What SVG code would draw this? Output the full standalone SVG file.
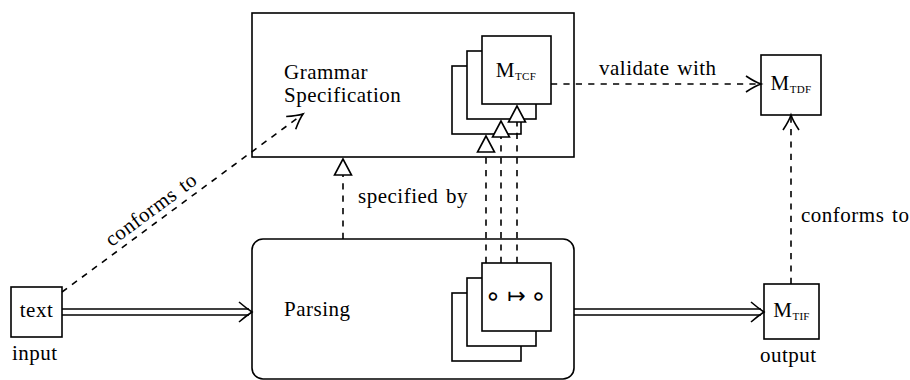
<svg xmlns="http://www.w3.org/2000/svg" width="910" height="380" viewBox="0 0 910 380">
  <style>
    .box { fill: #ffffff; stroke: #000000; stroke-width: 1.6; }
    .lbl { font-family: "Liberation Serif", "Times New Roman", serif; font-size: 21px; fill: #000000; letter-spacing: 0.5px; word-spacing: 2px; }
    .sub { font-size: 11px; letter-spacing: 0.3px; }
    .sym { font-family: "DejaVu Sans ExtraLight", "DejaVu Sans", sans-serif; font-size: 22px; fill: #000000; }
    .ring { font-size: 27px; }
    .dash { fill: none; stroke: #000000; stroke-width: 1.6; stroke-dasharray: 6.2 6.2; }
    .solid { fill: none; stroke: #000000; stroke-width: 1.6; }
    .head { fill: none; stroke: #000000; stroke-width: 1.6; stroke-linejoin: miter; }
  </style>
  <defs>
    <!-- open "to" arrowhead -->
    <marker id="open" markerUnits="userSpaceOnUse" markerWidth="24" markerHeight="24" viewBox="-20 -12 24 24" refX="0" refY="0" orient="auto" overflow="visible">
      <path d="M-15,-8 Q-6,-2 0,0 Q-6,2 -15,8" fill="none" stroke="#000" stroke-width="1.6"/>
    </marker>
    <!-- hollow triangle arrowhead -->
    <marker id="tri" markerUnits="userSpaceOnUse" markerWidth="24" markerHeight="24" viewBox="-20 -12 24 24" refX="0" refY="0" orient="auto" overflow="visible">
      <path d="M0,0 L-16,-8.5 L-16,8.5 Z" fill="#fff" stroke="#000" stroke-width="1.6" stroke-linejoin="miter"/>
    </marker>
  </defs>

  <!-- Grammar specification container -->
  <g id="grammar">
    <rect class="box" x="252" y="13" width="322" height="144"/>
    <text class="lbl" x="284" y="79">Grammar</text>
    <text class="lbl" x="284" y="102">Specification</text>
  </g>

  <!-- stack of M_TCF models -->
  <g id="mtcf">
    <rect class="box" x="452" y="66" width="69" height="68"/>
    <rect class="box" x="467" y="51" width="69" height="68"/>
    <rect class="box" x="482" y="36" width="69" height="68"/>
    <text class="lbl" x="516" y="77" text-anchor="middle">M<tspan class="sub" dy="3">TCF</tspan></text>
  </g>

  <!-- Parsing container -->
  <g id="parsing">
    <rect class="box" x="252" y="239" width="322" height="140" rx="11" ry="11"/>
    <text class="lbl" x="284" y="316">Parsing</text>
  </g>

  <!-- stack of mapping rules -->
  <g id="mapping">
    <rect class="box" x="452" y="293" width="69" height="68"/>
    <rect class="box" x="467" y="278" width="69" height="68"/>
    <rect class="box" x="482" y="263" width="69" height="68"/>
    <text class="sym" text-anchor="middle"><tspan class="ring" x="493" y="304.5">∘</tspan><tspan x="516.5" y="303">↦</tspan><tspan class="ring" x="538.5" y="304.5">∘</tspan></text>
  </g>

  <!-- input text -->
  <g id="input">
    <rect class="box" x="11" y="287" width="51" height="50"/>
    <text class="lbl" x="36.5" y="317" text-anchor="middle">text</text>
    <text class="lbl" x="12" y="360">input</text>
  </g>

  <!-- target data format -->
  <g id="mtdf">
    <rect class="box" x="761" y="55" width="60" height="60"/>
    <text class="lbl" x="791" y="90" text-anchor="middle">M<tspan class="sub" dy="3">TDF</tspan></text>
  </g>

  <!-- target instance -->
  <g id="mtif">
    <rect class="box" x="764" y="284" width="55" height="55"/>
    <text class="lbl" x="791.5" y="317" text-anchor="middle">M<tspan class="sub" dy="3">TIF</tspan></text>
    <text class="lbl" x="760" y="362">output</text>
  </g>

  <!-- connectors -->
  <g id="connectors">
    <!-- text conforms to grammar -->
    <line class="dash" x1="62" y1="292" x2="303" y2="114" marker-end="url(#open)"/>
    <text class="lbl" x="155" y="215" text-anchor="middle" transform="rotate(-36.5 155 215)">conforms to</text>

    <!-- parsing specified by grammar -->
    <line class="dash" x1="343" y1="239" x2="343" y2="159" marker-end="url(#tri)"/>
    <text class="lbl" x="358" y="203">specified by</text>

    <!-- mapping rules realise the M_TCF models -->
    <line class="dash" x1="486" y1="263" x2="486" y2="136" marker-end="url(#tri)"/>
    <line class="dash" x1="501" y1="263" x2="501" y2="121" marker-end="url(#tri)"/>
    <line class="dash" x1="517" y1="263" x2="517" y2="106" marker-end="url(#tri)"/>

    <!-- validate with -->
    <line class="dash" x1="551" y1="84" x2="761" y2="84" marker-end="url(#open)"/>
    <text class="lbl" x="599" y="75">validate with</text>

    <!-- output conforms to M_TDF -->
    <line class="dash" x1="791" y1="284" x2="791" y2="115" marker-end="url(#open)"/>
    <text class="lbl" x="801" y="222">conforms to</text>

    <!-- double arrow: input into parsing -->
    <line class="solid" x1="62" y1="309" x2="249" y2="309"/>
    <line class="solid" x1="62" y1="315" x2="249" y2="315"/>
    <path class="head" d="M239,302 Q246,308 252,312 Q246,316 239,322"/>

    <!-- double arrow: parsing into output -->
    <line class="solid" x1="574" y1="309" x2="761" y2="309"/>
    <line class="solid" x1="574" y1="315" x2="761" y2="315"/>
    <path class="head" d="M751,302 Q758,308 764,312 Q758,316 751,322"/>
  </g>
</svg>
